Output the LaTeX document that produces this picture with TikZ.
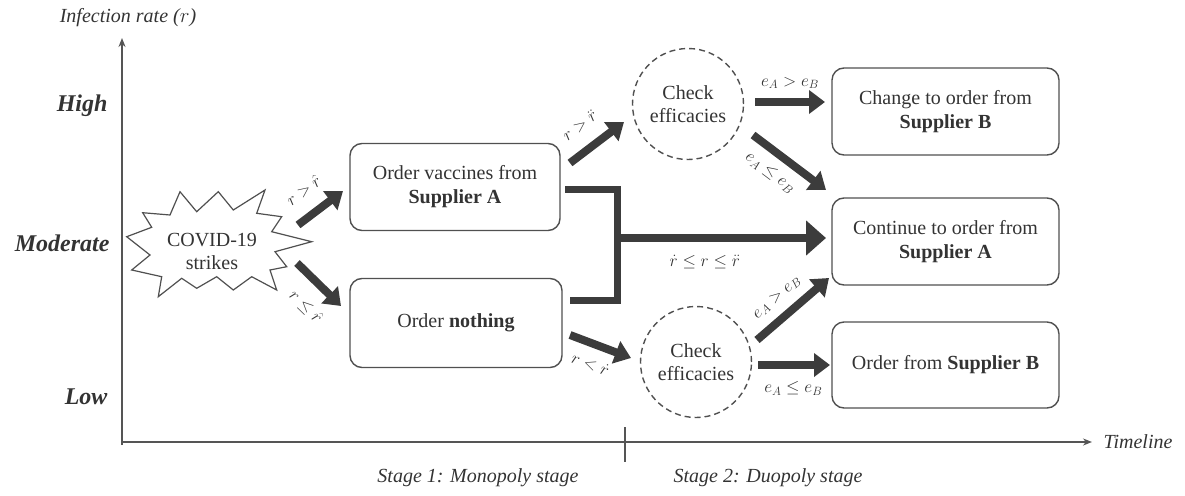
\documentclass[tikz,border=0pt]{standalone}
\usepackage{fontspec}
\setmainfont{Liberation Serif}
\usetikzlibrary{arrows.meta}
\definecolor{axisgray}{HTML}{555555}
\definecolor{boxgray}{HTML}{505050}
\definecolor{arrowgray}{HTML}{3C3C3C}
\definecolor{labgray}{HTML}{333333}
\begin{document}
\begin{tikzpicture}[x=1pt,y=-1pt,
  ax/.style={draw=axisgray, line width=1.8pt},
  box/.style={draw=boxgray, line width=1.4pt, rounded corners=12pt, align=center,
    font=\fontsize{20}{24}\selectfont, text=labgray, inner sep=0pt},
  chk/.style={circle, draw=boxgray, dash pattern=on 6pt off 4pt, line width=1.4pt,
    minimum size=111pt, align=center, font=\fontsize{20}{23}\selectfont, text=labgray, inner sep=0pt},
  fat/.style={draw=arrowgray, line width=8pt, -{Triangle[length=16pt,width=23pt]}},
  bigfat/.style={draw=arrowgray, line width=8pt, -{Triangle[length=20pt,width=34pt]}},
  lab/.style={font=\fontsize{18}{20}\selectfont, text=labgray, inner sep=1pt},
  axlab/.style={font=\fontsize{24}{28}\selectfont\bfseries\itshape, text=labgray, anchor=east},
  itl/.style={font=\fontsize{20}{24}\selectfont\itshape, text=labgray},
]
\useasboundingbox (0,0) rectangle (1185,495);

% axes
\coordinate (origin) at (122,442);
\coordinate (ytop) at (122,38);
\coordinate (xend) at (1092,442);
\draw[ax,-{Stealth[length=9pt,width=7pt]}] (122,445) -- (ytop);
\draw[ax,-{Stealth[length=9pt,width=7pt]}] (origin) -- (xend);
\coordinate (ticktop) at (625,427);
\coordinate (tickbot) at (625,462);
\draw[draw=axisgray, line width=1.5pt] (ticktop) -- (tickbot);

\node[itl] (ylab) at (128,18) {Infection rate ($r$)};
\node[itl, anchor=west] (xlab) at (1100,442) {Timeline};
\node[itl] (st1) at (478,478) {Stage 1: Monopoly stage};
\node[itl] (st2) at (768,478) {Stage 2: Duopoly stage};
\node[axlab] (high) at (111,106) {High};
\node[axlab] (mod) at (113,243) {Moderate};
\node[axlab] (low) at (111,397) {Low};

% starburst
\draw[boxgray, line width=1.2pt, fill=white, line join=miter]
  (126.7,236.7) -- (151.7,227.3) -- (142.7,212.7) -- (170,215) -- (180,191.7)
  -- (196.7,211.7) -- (218.3,191.7) -- (233.3,210) -- (265,190) -- (256.7,213.3)
  -- (281.7,216.7) -- (271.7,231.7) -- (311.7,241.7) -- (275,251.7) -- (286.7,266.7)
  -- (270,270) -- (276.7,290) -- (251.7,276.7) -- (233.3,290) -- (216.7,276.7)
  -- (196.7,288.3) -- (181.7,278.3) -- (158.3,296.7) -- (161.7,276.7) -- (131.7,270)
  -- (150,255) -- cycle;
\node[align=center, font=\fontsize{20}{23}\selectfont, text=labgray] (burst) at (212,251) {COVID-19\\strikes};

% boxes
\node[box, minimum width=210pt, minimum height=87pt] (boxA1) at (455,187) {Order vaccines from\\\textbf{Supplier A}};
\node[box, minimum width=212pt, minimum height=89pt] (box0) at (456,323) {Order \textbf{nothing}};
\node[chk] (chk1) at (688,104) {Check\\efficacies};
\node[chk] (chk2) at (696,362) {Check\\efficacies};
\node[box, minimum width=227pt, minimum height=87pt] (boxB) at (945.5,111.5) {Change to order from\\\textbf{Supplier B}};
\node[box, minimum width=227pt, minimum height=87pt] (boxA2) at (945.5,241.5) {Continue to order from\\\textbf{Supplier A}};
\node[box, minimum width=227pt, minimum height=86pt] (boxB2) at (945.5,365) {Order from \textbf{Supplier B}};

% arrow end points
\coordinate (a1s) at (298,225); \coordinate (a1e) at (343,191);
\coordinate (a2s) at (297,263); \coordinate (a2e) at (341,306);
\coordinate (a3s) at (570,163); \coordinate (a3e) at (624,122);
\coordinate (a4s) at (755,102); \coordinate (a4e) at (825,102);
\coordinate (a5s) at (753,135); \coordinate (a5e) at (826,190);
\coordinate (a7s) at (570,335); \coordinate (a7e) at (631,358);
\coordinate (a8s) at (757,340); \coordinate (a8e) at (829,278);
\coordinate (a9s) at (758,365); \coordinate (a9e) at (830,365);
\coordinate (bt1) at (565,189); \coordinate (bt2) at (617,189);
\coordinate (bb1) at (570,300); \coordinate (bb2) at (617,300);
\coordinate (a6s) at (617,238); \coordinate (a6e) at (826,238);

\draw[fat] (a1s) -- node[lab, sloped, above=13pt, pos=0.45] {$r>\hat{r}$} (a1e);
\draw[fat] (a2s) -- node[lab, sloped, below=13pt, pos=0.6] {$r\le\hat{r}$} (a2e);
\draw[fat] (a3s) -- node[lab, sloped, above=13pt, pos=0.45] {$r>\ddot{r}$} (a3e);
\draw[fat] (a4s) -- node[lab, above=8pt, pos=0.5] {$e_A>e_B$} (a4e);
\draw[fat] (a5s) -- node[lab, sloped, below=8pt, pos=0.4] {$e_A\le e_B$} (a5e);
\draw[fat] (a7s) -- node[lab, sloped, below=9pt, pos=0.45] {$r<\dot{r}$} (a7e);
\draw[fat] (a8s) -- node[lab, sloped, above=8pt, pos=0.45] {$e_A>e_B$} (a8e);
\draw[fat] (a9s) -- node[lab, below=12pt, pos=0.49] {$e_A\le e_B$} (a9e);

% bracket and main arrow
\draw[draw=arrowgray, line width=7pt, line join=miter] (bt1) -- (bt2) -- (bb2) -- (bb1);
\draw[bigfat] (a6s) -- node[lab, below=12pt, pos=0.42] {$\dot{r}\le r\le\ddot{r}$} (a6e);
\end{tikzpicture}
\end{document}
